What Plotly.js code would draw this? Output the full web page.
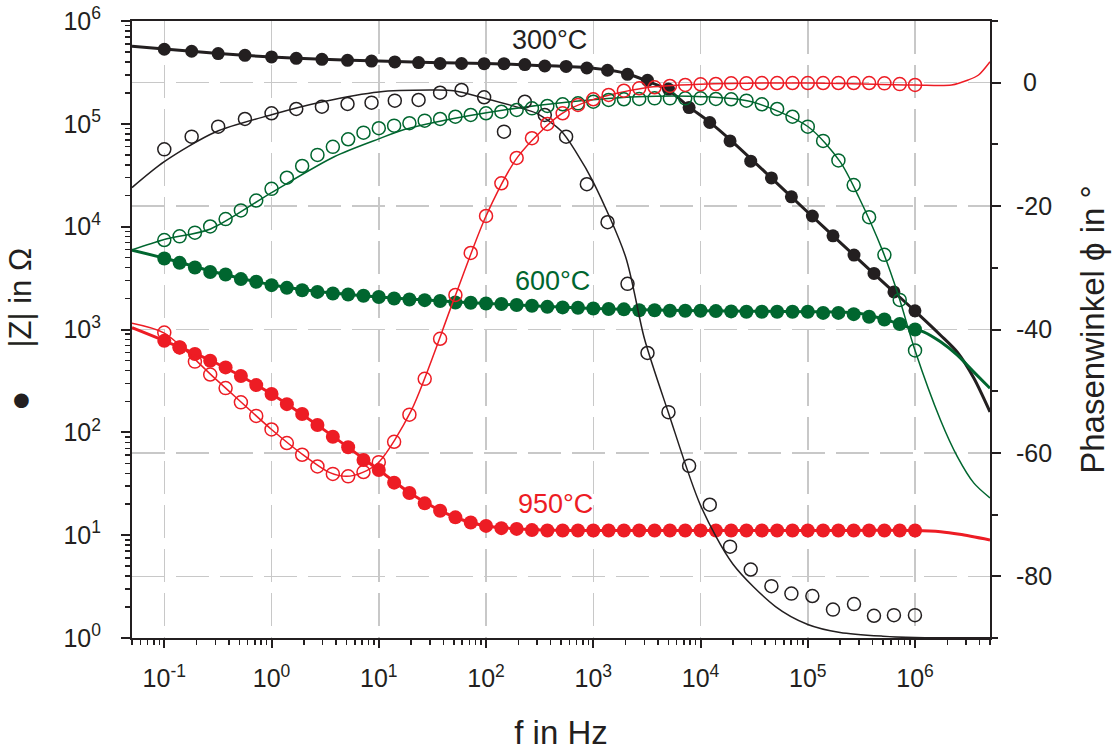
<!DOCTYPE html>
<html>
<head>
<meta charset="utf-8">
<script src="https://cdn.plot.ly/plotly-3.0.1.min.js"></script>
<style>
  html, body { margin: 0; padding: 0; background: #ffffff; }
  #chart { width: 1113px; height: 751px; }
</style>
</head>
<body>
<div id="chart"></div>
<script>
// ---------------- data ----------------
// 300 °C measurement frequencies (Hz)
const freq300 = [0.1, 0.18, 0.318, 0.565, 1.0, 1.7, 2.95, 5.11, 8.56, 14.1, 23.5, 37.3, 59.1, 96, 147, 230, 353, 558, 871, 1358, 2085, 3202, 5023, 7821, 12190, 18840, 29380, 45800, 70340, 110300, 171800, 269700, 414200, 635600, 998000];
const zMag300 = [531000, 508000, 482000, 464000, 447000, 434000, 424000, 415000, 408000, 400000, 394000, 386000, 386000, 385000, 385000, 377000, 365000, 362000, 349000, 332000, 303000, 265000, 218000, 144000, 103000, 68200, 43300, 29800, 19500, 12700, 8140, 5290, 3510, 2320, 1520];
const phase300 = [-10.8, -8.74, -7.13, -5.88, -4.96, -4.26, -3.89, -3.45, -3.24, -2.91, -2.80, -1.62, -1.18, -2.36, -7.93, -3.08, -5.23, -8.74, -16.45, -22.61, -32.6, -43.8, -53.4, -62.1, -68.4, -75.2, -78.9, -81.6, -82.8, -83.2, -85.4, -84.5, -86.4, -86.3, -86.3];

// 600 °C and 950 °C measurement frequencies (Hz)
const freqA = [0.1, 0.139, 0.193, 0.268, 0.373, 0.518, 0.72, 1, 1.39, 1.93, 2.68, 3.73, 5.18, 7.2, 10, 13.9, 19.3, 26.8, 37.3, 51.8, 72, 100, 139, 193, 268, 373, 518, 720, 1000, 1390, 1930, 2680, 3730, 5180, 7200, 10000, 13900, 19300, 26800, 37300, 51800, 72000, 100000, 139000, 193000, 268000, 373000, 518000, 720000, 1000000];
const zMag600 = [4910, 4450, 4010, 3620, 3430, 3090, 2910, 2700, 2540, 2410, 2320, 2240, 2190, 2130, 2070, 2000, 1960, 1930, 1890, 1830, 1820, 1790, 1770, 1730, 1700, 1660, 1640, 1630, 1600, 1580, 1570, 1540, 1540, 1520, 1520, 1520, 1510, 1500, 1490, 1490, 1490, 1490, 1490, 1450, 1450, 1410, 1330, 1250, 1130, 1000];
const phase600 = [-25.5, -24.9, -24.3, -23.3, -22.1, -20.7, -19.1, -17.2, -15.4, -13.5, -11.7, -10.4, -9.17, -8.10, -7.38, -6.96, -6.57, -6.15, -5.88, -5.51, -5.23, -4.96, -4.70, -4.42, -4.15, -3.77, -3.50, -3.34, -3.08, -2.80, -2.69, -2.64, -2.53, -2.53, -2.53, -2.53, -2.64, -2.69, -2.91, -3.50, -4.26, -5.51, -7.13, -9.44, -12.6, -16.6, -21.8, -27.9, -35.2, -43.4];
const zMag950 = [776, 670, 577, 497, 428, 353, 288, 236, 188, 151, 118, 90.6, 71.5, 53.8, 43.0, 32.4, 25.7, 20.4, 17.3, 14.9, 13.3, 12.3, 11.7, 11.5, 11.2, 11.1, 11.1, 11.1, 11.1, 11.1, 11.1, 11.1, 11.1, 11.1, 11.1, 11.1, 11.1, 11.1, 11.1, 11.1, 11.1, 11.1, 11.1, 11.1, 11.1, 11.1, 11.1, 11.1, 11.1, 11.1];
const phase950 = [-40.5, -42.9, -45.2, -47.3, -49.5, -51.8, -54.0, -56.2, -58.4, -60.3, -62.2, -63.4, -63.8, -63.1, -61.5, -58.2, -53.8, -48.0, -41.5, -34.4, -27.6, -21.6, -16.3, -12.2, -9.0, -6.69, -4.96, -3.61, -2.69, -1.99, -1.30, -0.91, -0.74, -0.53, -0.37, -0.26, -0.21, -0.10, -0.10, -0.05, -0.05, -0.05, -0.05, -0.05, -0.05, -0.05, -0.05, -0.10, -0.22, -0.37];

// fitted curves
const fitFreqZ300 = [0.05, 0.1, 0.3, 1, 3, 10, 30, 100, 300, 1000, 2000, 3200, 5000, 7800, 12000, 20000, 50000, 100000, 200000, 500000, 1000000, 1730000, 2480000, 3540000, 5000000];
const fitZ300 = [568000, 535000, 485000, 447000, 424000, 408000, 395000, 386000, 370000, 347000, 310000, 260000, 213000, 146000, 105000, 66500, 27300, 13800, 7050, 2910, 1510, 880, 601, 336, 158];
const fitFreqP300 = [0.05, 0.1, 0.3, 1, 3, 10, 30, 50, 100, 200, 300, 500, 700, 1000, 2000, 3000, 5000, 10000, 20000, 50000, 100000, 200000, 500000, 1000000, 5000000];
const fitP300 = [-17.0, -12.8, -8.0, -5.2, -3.1, -1.5, -1.2, -1.3, -2.6, -4.0, -5.0, -7.8, -11.4, -16.1, -28.2, -41.5, -53.4, -68.5, -78.0, -84.9, -87.8, -89.1, -89.7, -89.9, -89.95];

const fitFreqZ600 = [0.05, 0.1, 0.3, 1, 3, 10, 30, 100, 1000, 10000, 100000, 300000, 600000, 1000000, 1200000, 1730000, 2480000, 3540000, 5000000];
const fitZ600 = [5910, 4950, 3600, 2720, 2310, 2070, 1920, 1790, 1600, 1520, 1490, 1440, 1200, 1000, 950, 759, 563, 385, 268];
const fitFreqP600 = [0.05, 0.1, 0.27, 1, 3.84, 10, 17.3, 35.3, 147, 617, 2570, 10700, 30000, 100000, 200000, 300000, 500000, 700000, 1000000, 1730000, 2480000, 3540000, 5000000];
const fitP600 = [-27.1, -25.4, -23.7, -17.8, -12.0, -9.1, -7.6, -6.32, -4.42, -3.08, -2.27, -2.27, -3.1, -7.1, -12.8, -18.6, -27.3, -34.5, -43.4, -54.7, -60.6, -64.9, -67.3];

const fitFreqZ950 = [0.05, 0.1, 0.3, 1, 3, 10, 20, 50, 100, 300, 1000, 10000, 100000, 1000000, 1730000, 2600000, 5000000];
const fitZ950 = [1040, 776, 475, 236, 108, 43, 25.3, 15.1, 12.3, 11.3, 11.1, 11.1, 11.1, 11.1, 10.8, 10.2, 8.98];
const fitFreqP950 = [0.05, 0.1, 0.3, 1, 2, 3.5, 5, 7, 10, 20, 50, 100, 200, 500, 1000, 3000, 10000, 100000, 1000000, 2190000, 3130000, 3910000, 5000000];
const fitP950 = [-39.0, -40.6, -48.0, -56.2, -60.4, -63.2, -63.8, -63.2, -61.5, -53.2, -35.2, -21.6, -11.9, -5.1, -2.7, -0.85, -0.26, -0.05, -0.37, -0.37, 0.44, 1.25, 3.4];

// tick labels
const xTickVals = [0.1, 1, 10, 100, 1000, 10000, 100000, 1000000];
const xTickText = ['10<sup>-1</sup>', '10<sup>0</sup>', '10<sup>1</sup>', '10<sup>2</sup>', '10<sup>3</sup>', '10<sup>4</sup>', '10<sup>5</sup>', '10<sup>6</sup>'];
const yTickVals = [1, 10, 100, 1000, 10000, 100000, 1000000];
const yTickText = ['10<sup>0</sup>', '10<sup>1</sup>', '10<sup>2</sup>', '10<sup>3</sup>', '10<sup>4</sup>', '10<sup>5</sup>', '10<sup>6</sup>'];
const y2TickVals = [0, -20, -40, -60, -80];
const y2TickText = ['\u00a00', '-20', '-40', '-60', '-80'];
const tempLabels = ['300°C', '600°C', '950°C'];

// ---------------- styles ----------------
const C_BLACK = '#231f20';
const C_GREEN = '#00662f';
const C_RED = '#ed1c24';
const FONT = 'Liberation Sans, Arial, Helvetica, sans-serif';

function minorLog(lo, hi) {
  const out = [];
  for (let e = lo; e <= hi; e++) {
    for (let m = 2; m <= 9; m++) out.push(m * Math.pow(10, e));
  }
  return out;
}
const xMinor = minorLog(-2, 6).filter(v => v >= 0.05 && v <= 5.0001e6);
const yMinor = minorLog(0, 5);

function fitLine(x, y, color, width, axis) {
  return { x: x, y: y, type: 'scatter', mode: 'lines', yaxis: axis, hoverinfo: 'skip',
           line: { color: color, width: width, shape: 'spline', smoothing: 0.8 } };
}
function pts(x, y, color, filled, axis, size) {
  return { x: x, y: y, type: 'scatter', mode: 'markers', yaxis: axis,
           marker: filled ? { symbol: 'circle', size: size, color: color, line: { width: 0 } }
                          : { symbol: 'circle-open', size: size, color: color, line: { width: 1.5, color: color } } };
}

const traces = [
  fitLine(fitFreqP300, fitP300, C_BLACK, 1.5, 'y2'),
  fitLine(fitFreqP600, fitP600, C_GREEN, 1.5, 'y2'),
  fitLine(fitFreqP950, fitP950, C_RED, 1.5, 'y2'),
  fitLine(fitFreqZ300, fitZ300, C_BLACK, 3, 'y'),
  fitLine(fitFreqZ600, fitZ600, C_GREEN, 3, 'y'),
  fitLine(fitFreqZ950, fitZ950, C_RED, 3, 'y'),
  pts(freq300, zMag300, C_BLACK, true, 'y', 13),
  pts(freqA, zMag600, C_GREEN, true, 'y', 14),
  pts(freqA, zMag950, C_RED, true, 'y', 14),
  pts(freq300, phase300, C_BLACK, false, 'y2', 13),
  pts(freqA, phase600, C_GREEN, false, 'y2', 13),
  pts(freqA, phase950, C_RED, false, 'y2', 13)
];

const axisCommon = {
  showline: true, linewidth: 2, linecolor: C_BLACK,
  ticks: 'outside', tickwidth: 2, tickcolor: C_BLACK,
  zeroline: false, tickfont: { family: FONT, size: 25, color: C_BLACK }
};
const gridStyle = { gridcolor: '#c8c8c8', gridwidth: 1.5, griddash: '33px,11px' };

const layout = {
  width: 1113, height: 751,
  margin: { l: 131.7, r: 123, t: 20.7, b: 113, pad: 0 },
  paper_bgcolor: '#ffffff', plot_bgcolor: '#ffffff',
  showlegend: false,
  font: { family: FONT, color: C_BLACK },
  xaxis: Object.assign({}, axisCommon, gridStyle, {
    type: 'log', range: [Math.log10(0.05), Math.log10(5e6)],
    tickmode: 'array', tickvals: xTickVals, ticktext: xTickText,
    ticklen: 8, mirror: true, showgrid: true, ticklabelstandoff: 9,
    minor: { tickmode: 'array', tickvals: xMinor, ticks: 'outside', ticklen: 5, tickwidth: 1.5, tickcolor: C_BLACK, showgrid: false },
    title: { text: 'f in Hz', font: { family: FONT, size: 33, color: C_BLACK }, standoff: 40 }
  }),
  yaxis: Object.assign({}, axisCommon, {
    type: 'log', range: [0, 6],
    tickmode: 'array', tickvals: yTickVals, ticktext: yTickText,
    ticklen: 9, showgrid: false, ticklabelstandoff: 15,
    minor: { tickmode: 'array', tickvals: yMinor, ticks: 'outside', ticklen: 5, tickwidth: 1.5, tickcolor: C_BLACK, showgrid: false },
    title: { text: '\u00a0\u00a0\u00a0\u00a0\u00a0\u00a0\u00a0<span style="font-size:34px">●</span>\u00a0\u00a0\u00a0\u00a0\u00a0|Z| in Ω',
             font: { family: FONT, size: 31, color: C_BLACK }, standoff: 26 }
  }),
  yaxis2: Object.assign({}, axisCommon, gridStyle, {
    overlaying: 'y', side: 'right', range: [-90, 10],
    tickmode: 'array', tickvals: y2TickVals, ticktext: y2TickText,
    ticklen: 9, showgrid: true, ticklabelstandoff: 10,
    minor: { dtick: 10, tick0: 0, ticks: 'outside', ticklen: 6, tickwidth: 2, tickcolor: C_BLACK, showgrid: false },
    title: { text: 'Phasenwinkel ϕ in °', font: { family: FONT, size: 33, color: C_BLACK }, standoff: 30 }
  }),
  annotations: [
    { text: tempLabels[0], xref: 'x', yref: 'y', x: 2.595, y: 5.812, showarrow: false, font: { family: FONT, size: 27, color: C_BLACK } },
    { text: tempLabels[1], xref: 'x', yref: 'y', x: 2.620, y: 3.470, showarrow: false, font: { family: FONT, size: 27, color: C_GREEN } },
    { text: tempLabels[2], xref: 'x', yref: 'y', x: 2.650, y: 1.303, showarrow: false, font: { family: FONT, size: 27, color: C_RED } }
  ]
};

Plotly.newPlot('chart', traces, layout, { staticPlot: true, displayModeBar: false });
</script>
</body>
</html>
